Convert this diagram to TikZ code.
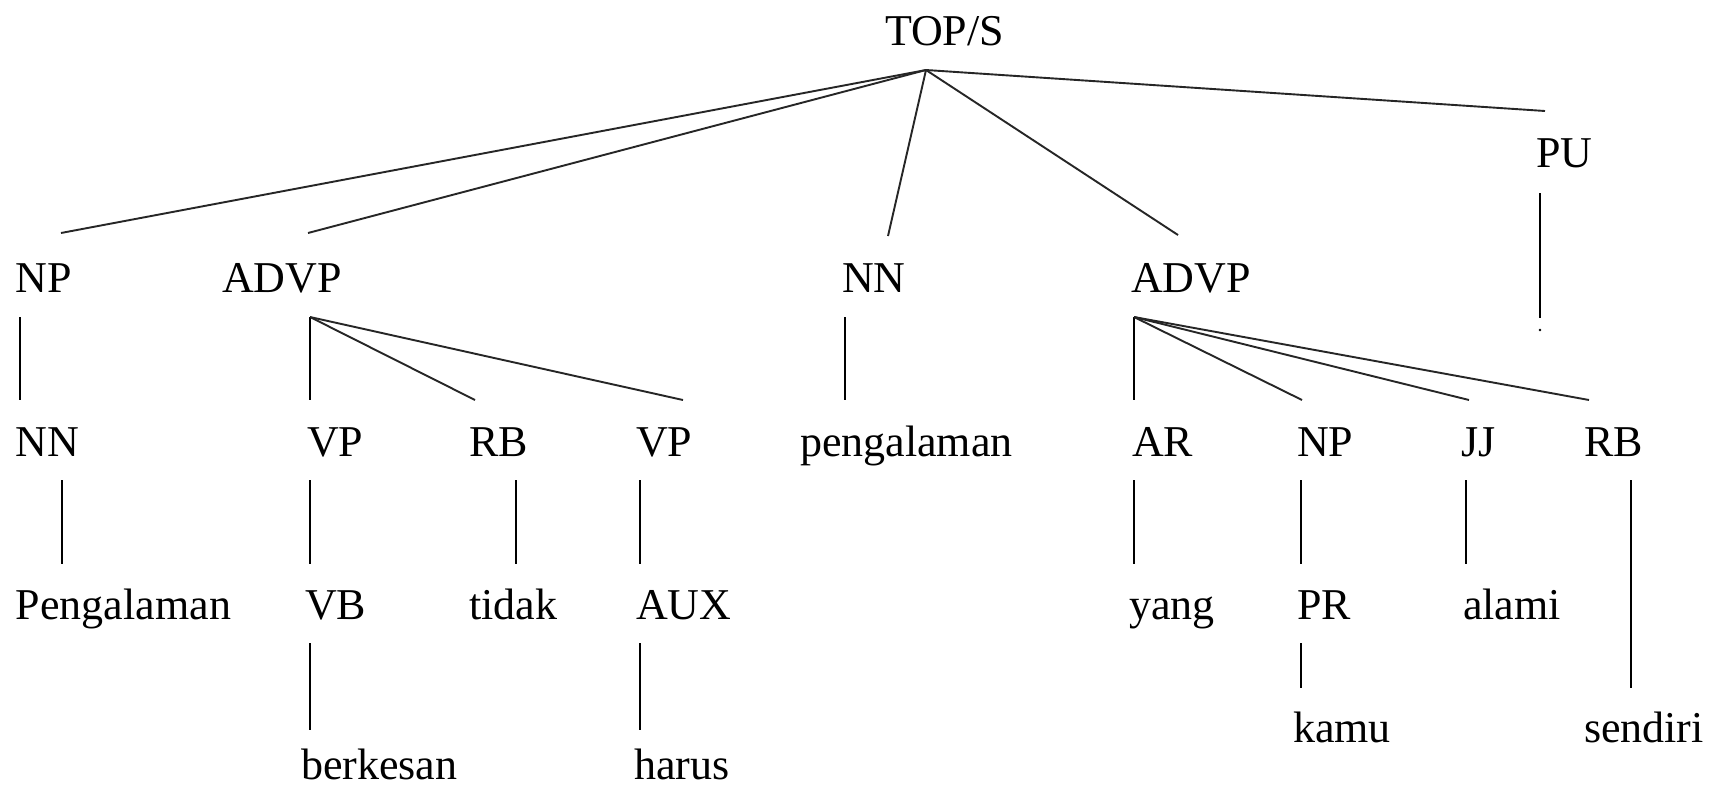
\documentclass[tikz,border=0pt]{standalone}
\usepackage{fontspec}
\setmainfont{Liberation Serif}
\begin{document}
\begin{tikzpicture}[x=1pt,y=-1pt,
  lbl/.style={anchor=base west,inner sep=0pt,outer sep=0pt,
    font=\fontsize{44}{48}\selectfont},
  edge/.style={line width=1.9pt,black!85},
  stem/.style={line width=1.7pt,black}]
\useasboundingbox[fill=white] (0,0) rectangle (1709,788);

% labels
\node[lbl] (top)  at (885,45)  {TOP/S};
\node[lbl] (pu)   at (1536,167) {PU};
\node[lbl] (np1)  at (16,292)  {NP};
\node[lbl] (advp1) at (222,292) {ADVP};
\node[lbl] (nn1)  at (842,292) {NN};
\node[lbl] (advp2) at (1131,292) {ADVP};
\node[lbl] (nn2)  at (16,456)  {NN};
\node[lbl] (vp1)  at (307,456) {VP};
\node[lbl] (rb1)  at (469,456) {RB};
\node[lbl] (vp2)  at (636,456) {VP};
\node[lbl] (peng2) at (800,456) {pengalaman};
\node[lbl] (ar)   at (1132,456) {AR};
\node[lbl] (np2)  at (1297,456) {NP};
\node[lbl] (jj)   at (1461,456) {JJ};
\node[lbl] (rb2)  at (1584,456) {RB};
\node[lbl] (peng1) at (16,619) {Pengalaman};
\node[lbl] (vb)   at (305,619) {VB};
\node[lbl] (tidak) at (469,619) {tidak};
\node[lbl] (aux)  at (636,619) {AUX};
\node[lbl] (yang) at (1129,619) {yang};
\node[lbl] (pr)   at (1297,619) {PR};
\node[lbl] (alami) at (1463,619) {alami};
\node[lbl] (kamu) at (1293,742) {kamu};
\node[lbl] (sendiri) at (1584,742) {sendiri};
\node[lbl] (berkesan) at (301,779) {berkesan};
\node[lbl] (harus) at (634,779) {harus};

% attachment points of the branches
\coordinate (top-b)   at (926,70);
\coordinate (np1-t)   at (61,233);
\coordinate (advp1-t) at (308,233);
\coordinate (nn1-t)   at (888,236);
\coordinate (advp2-t) at (1178,235);
\coordinate (pu-t)    at (1545,111);
\coordinate (pu-b1)   at (1540,193);
\coordinate (pu-b2)   at (1540,318);
\coordinate (pu-dot)  at (1540,330);

\coordinate (np1-b)   at (20,317);
\coordinate (advp1-b) at (310,317);
\coordinate (nn1-b)   at (845,317);
\coordinate (advp2-b) at (1134,317);

\coordinate (nn2-t) at (20,400);
\coordinate (vp1-t) at (310,400);
\coordinate (rb1-t) at (475,400);
\coordinate (vp2-t) at (683,400);
\coordinate (peng2-t) at (845,400);
\coordinate (ar-t)  at (1134,400);
\coordinate (np2-t) at (1302,400);
\coordinate (jj-t)  at (1469,400);
\coordinate (rb2-t) at (1589,400);

\coordinate (nn2-b) at (62,480);
\coordinate (vp1-b) at (310,480);
\coordinate (rb1-b) at (516,480);
\coordinate (vp2-b) at (640,480);
\coordinate (ar-b)  at (1134,480);
\coordinate (np2-b) at (1301,480);
\coordinate (jj-b)  at (1466,480);
\coordinate (rb2-b) at (1631,480);

\coordinate (peng1-t) at (62,564);
\coordinate (vb-t)    at (310,564);
\coordinate (tidak-t) at (516,564);
\coordinate (aux-t)   at (640,564);
\coordinate (yang-t)  at (1134,564);
\coordinate (pr-t)    at (1301,564);
\coordinate (alami-t) at (1466,564);
\coordinate (sendiri-t) at (1631,688);

\coordinate (vb-b)  at (310,643);
\coordinate (aux-b) at (640,643);
\coordinate (pr-b)  at (1301,643);
\coordinate (berkesan-t) at (310,730);
\coordinate (harus-t)    at (640,730);
\coordinate (kamu-t)     at (1301,688);

% branches from TOP/S
\draw[edge] (top-b) -- (np1-t);
\draw[edge] (top-b) -- (advp1-t);
\draw[edge] (top-b) -- (nn1-t);
\draw[edge] (top-b) -- (advp2-t);
\draw[edge] (top-b) -- (pu-t);
\draw[stem] (pu-b1) -- (pu-b2);
\fill (pu-dot) circle[radius=1.3pt];

% second level
\draw[stem] (np1-b) -- (nn2-t);
\draw[stem] (advp1-b) -- (vp1-t);
\draw[edge] (advp1-b) -- (rb1-t);
\draw[edge] (advp1-b) -- (vp2-t);
\draw[stem] (nn1-b) -- (peng2-t);
\draw[stem] (advp2-b) -- (ar-t);
\draw[edge] (advp2-b) -- (np2-t);
\draw[edge] (advp2-b) -- (jj-t);
\draw[edge] (advp2-b) -- (rb2-t);

% third level
\draw[stem] (nn2-b) -- (peng1-t);
\draw[stem] (vp1-b) -- (vb-t);
\draw[stem] (rb1-b) -- (tidak-t);
\draw[stem] (vp2-b) -- (aux-t);
\draw[stem] (ar-b) -- (yang-t);
\draw[stem] (np2-b) -- (pr-t);
\draw[stem] (jj-b) -- (alami-t);
\draw[stem] (rb2-b) -- (sendiri-t);

% fourth level
\draw[stem] (vb-b) -- (berkesan-t);
\draw[stem] (aux-b) -- (harus-t);
\draw[stem] (pr-b) -- (kamu-t);
\end{tikzpicture}
\end{document}
